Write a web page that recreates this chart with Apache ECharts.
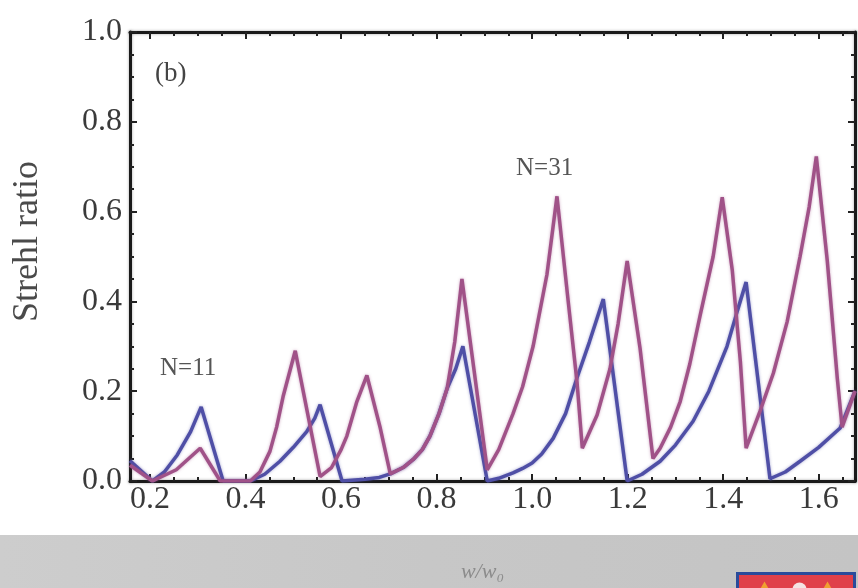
<!DOCTYPE html>
<html>
<head>
<meta charset="utf-8">
<script src="https://cdn.jsdelivr.net/npm/echarts@6/dist/echarts.min.js"></script>
<style>html,body{margin:0;padding:0;background:#fff;}#c{width:858px;height:588px;}</style>
</head>
<body>
<div id="c"></div>
<script>
// ---- data ----
var xTickLabels = [0.2, 0.4, 0.6, 0.8, 1.0, 1.2, 1.4, 1.6];
var xMinorTicks = [0.2, 0.25, 0.3, 0.35, 0.4, 0.45, 0.5, 0.55, 0.6, 0.65, 0.7, 0.75, 0.8, 0.85, 0.9, 0.95, 1.0, 1.05, 1.1, 1.15, 1.2, 1.25, 1.3, 1.35, 1.4, 1.45, 1.5, 1.55, 1.6, 1.65];

var blueName = 'N=11';
var blueX = [0.158, 0.205, 0.23, 0.257, 0.285, 0.307, 0.353, 0.41, 0.44, 0.472, 0.50, 0.528, 0.545, 0.556, 0.602, 0.65, 0.68, 0.703, 0.73, 0.751, 0.77, 0.786, 0.805, 0.822, 0.84, 0.855, 0.906, 0.93, 0.96, 0.98, 1.0, 1.02, 1.044, 1.07, 1.094, 1.12, 1.149, 1.199, 1.23, 1.268, 1.30, 1.337, 1.37, 1.408, 1.43, 1.448, 1.498, 1.53, 1.561, 1.60, 1.645, 1.676];
var blueY = [0.045, 0.0, 0.02, 0.058, 0.11, 0.165, 0.0, 0.0, 0.015, 0.044, 0.075, 0.11, 0.14, 0.17, 0.0, 0.004, 0.008, 0.016, 0.03, 0.048, 0.07, 0.10, 0.15, 0.206, 0.25, 0.30, 0.0, 0.006, 0.018, 0.028, 0.04, 0.06, 0.095, 0.15, 0.23, 0.31, 0.405, 0.0, 0.015, 0.044, 0.08, 0.133, 0.2, 0.30, 0.38, 0.443, 0.005, 0.02, 0.044, 0.075, 0.118, 0.2];

var purpleName = 'N=31';
var purpleX = [0.158, 0.205, 0.255, 0.305, 0.347, 0.41, 0.43, 0.451, 0.465, 0.479, 0.504, 0.529, 0.556, 0.58, 0.60, 0.612, 0.633, 0.654, 0.682, 0.703, 0.73, 0.751, 0.77, 0.786, 0.805, 0.822, 0.838, 0.853, 0.906, 0.93, 0.96, 0.98, 1.002, 1.031, 1.052, 1.075, 1.094, 1.105, 1.136, 1.163, 1.18, 1.199, 1.226, 1.253, 1.268, 1.29, 1.31, 1.33, 1.352, 1.379, 1.398, 1.419, 1.436, 1.448, 1.477, 1.505, 1.534, 1.561, 1.58, 1.595, 1.618, 1.639, 1.649, 1.676];
var purpleY = [0.035, 0.0, 0.025, 0.073, 0.0, 0.0, 0.02, 0.066, 0.12, 0.19, 0.29, 0.155, 0.01, 0.03, 0.07, 0.10, 0.177, 0.235, 0.118, 0.016, 0.03, 0.048, 0.07, 0.10, 0.15, 0.206, 0.31, 0.45, 0.025, 0.07, 0.15, 0.21, 0.30, 0.46, 0.634, 0.405, 0.22, 0.073, 0.147, 0.25, 0.35, 0.49, 0.295, 0.05, 0.073, 0.12, 0.177, 0.26, 0.37, 0.50, 0.632, 0.47, 0.266, 0.073, 0.155, 0.24, 0.355, 0.50, 0.61, 0.723, 0.49, 0.228, 0.12, 0.2];

function pairs(xs, ys) { return xs.map(function (x, i) { return [x, ys[i]]; }); }

var serif = '"Liberation Serif", "DejaVu Serif", serif';
var xMin = 0.158, xMax = 1.676;
var axisLineStyle = { color: '#1a1a1a', width: 3, shadowColor: 'rgba(0,0,0,0.35)', shadowBlur: 3 };

var chart = echarts.init(document.getElementById('c'), null, { renderer: 'canvas' });
chart.setOption({
  animation: false,
  backgroundColor: '#ffffff',
  grid: { left: 130, right: 3, top: 32, bottom: 105, containLabel: false },
  xAxis: [
    {
      type: 'value', min: xMin, max: xMax, position: 'bottom',
      name: 'w/w\u2080', nameLocation: 'middle', nameGap: 80,
      nameTextStyle: { fontFamily: serif, fontSize: 22, color: '#8c8c8c', fontStyle: 'italic', padding: [0, 20, 0, 0] },
      axisLine: { show: true, onZero: false, lineStyle: axisLineStyle },
      axisTick: { show: true, inside: true, length: 7, customValues: xTickLabels, lineStyle: { color: '#222', width: 2 } },
      axisLabel: { show: true, customValues: xTickLabels, margin: 3, fontFamily: serif, fontSize: 32, color: '#3a3a3a',
        formatter: function (v) { return v.toFixed(1); } },
      splitLine: { show: false }
    },
    {
      type: 'value', min: xMin, max: xMax, position: 'bottom',
      axisLine: { show: false, onZero: false },
      axisTick: { show: true, inside: true, length: 4, customValues: xMinorTicks, lineStyle: { color: '#222', width: 2 } },
      axisLabel: { show: false }, splitLine: { show: false }
    },
    {
      type: 'value', min: xMin, max: xMax, position: 'top',
      axisLine: { show: true, onZero: false, lineStyle: axisLineStyle },
      axisTick: { show: true, inside: true, length: 7, customValues: xTickLabels, lineStyle: { color: '#222', width: 2 } },
      axisLabel: { show: false }, splitLine: { show: false }
    },
    {
      type: 'value', min: xMin, max: xMax, position: 'top',
      axisLine: { show: false, onZero: false },
      axisTick: { show: true, inside: true, length: 4, customValues: xMinorTicks, lineStyle: { color: '#222', width: 2 } },
      axisLabel: { show: false }, splitLine: { show: false }
    }
  ],
  yAxis: [
    {
      type: 'value', min: 0, max: 1.0, interval: 0.2, position: 'left',
      name: 'Strehl ratio', nameLocation: 'middle', nameGap: 84,
      nameTextStyle: { fontFamily: serif, fontSize: 36, color: '#4a4a4a', padding: [0, 0, 0, 30] },
      axisLine: { show: true, onZero: false, lineStyle: axisLineStyle },
      axisTick: { show: true, inside: true, length: 7, lineStyle: { color: '#222', width: 2 } },
      minorTick: { show: true, splitNumber: 4, length: 4, lineStyle: { color: '#222', width: 2 } },
      axisLabel: { show: true, margin: 8, fontFamily: serif, fontSize: 32, color: '#3a3a3a',
        formatter: function (v) { return v.toFixed(1); } },
      splitLine: { show: false }
    },
    {
      type: 'value', min: 0, max: 1.0, interval: 0.2, position: 'right',
      axisLine: { show: true, onZero: false, lineStyle: axisLineStyle },
      axisTick: { show: true, inside: true, length: 7, lineStyle: { color: '#222', width: 2 } },
      minorTick: { show: true, splitNumber: 4, length: 4, lineStyle: { color: '#222', width: 2 } },
      axisLabel: { show: false }, splitLine: { show: false }
    }
  ],
  series: [
    {
      name: blueName, type: 'line', xAxisIndex: 0, yAxisIndex: 0,
      data: pairs(blueX, blueY), showSymbol: false, smooth: false,
      lineStyle: { color: '#4f4fa6', width: 3.5, shadowColor: 'rgba(79,79,166,0.5)', shadowBlur: 3 },
      z: 3
    },
    {
      name: purpleName, type: 'line', xAxisIndex: 0, yAxisIndex: 0,
      data: pairs(purpleX, purpleY), showSymbol: false, smooth: false,
      lineStyle: { color: '#a05288', width: 3.5, shadowColor: 'rgba(160,82,136,0.5)', shadowBlur: 3 },
      z: 4
    }
  ],
  graphic: [
    {
      type: 'rect', z: -10, silent: true,
      shape: { x: 0, y: 535, width: 858, height: 53 },
      style: { fill: new echarts.graphic.LinearGradient(0, 0, 1, 0, [
        { offset: 0, color: '#cdcdcd' }, { offset: 0.5, color: '#c7c7c7' }, { offset: 1, color: '#c4c4c4' }
      ]) }
    },
    { type: 'text', left: 155, top: 60, z: 10,
      style: { text: '(b)', font: '27px "Liberation Serif", serif', fill: '#444' } },
    { type: 'text', left: 160, top: 356, z: 10,
      style: { text: 'N=11', font: '25px "Liberation Serif", serif', fill: '#555' } },
    { type: 'text', left: 516, top: 156, z: 10,
      style: { text: 'N=31', font: '25px "Liberation Serif", serif', fill: '#555' } },
    {
      type: 'group', left: 736, top: 572, z: 10,
      children: [
        { type: 'rect', shape: { x: 0, y: 0, width: 117, height: 20 }, style: { fill: '#e0404a', stroke: '#2a4b9b', lineWidth: 3 } },
        { type: 'polygon', shape: { points: [[20, 20], [27, 8], [34, 20]] }, style: { fill: '#f0a030' } },
        { type: 'circle', shape: { cx: 62, cy: 16, r: 7 }, style: { fill: '#f4e4e4' } },
        { type: 'polygon', shape: { points: [[83, 20], [90, 8], [97, 20]] }, style: { fill: '#f0a030' } }
      ]
    }
  ]
});
</script>
</body>
</html>
